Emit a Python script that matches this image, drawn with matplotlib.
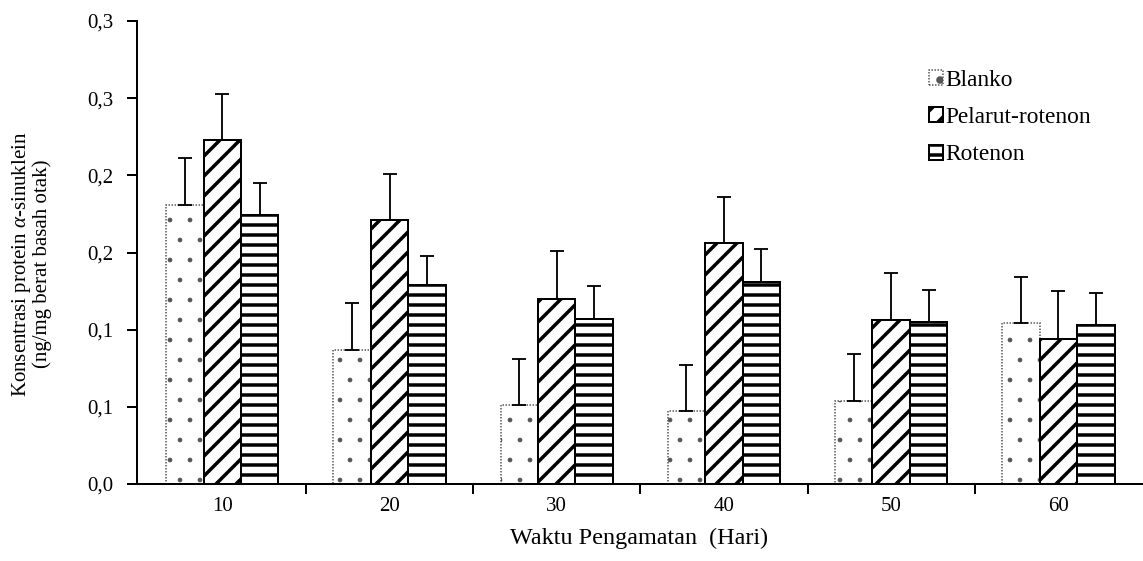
import numpy as np
import matplotlib
matplotlib.use('Agg')
import matplotlib.pyplot as plt

plt.rcParams['font.family'] = ['Liberation Serif', 'DejaVu Serif']
plt.rcParams['mathtext.fontset'] = 'custom'
plt.rcParams['mathtext.it'] = 'Liberation Serif:italic'
plt.rcParams['mathtext.rm'] = 'Liberation Serif'
plt.rcParams['hatch.linewidth'] = 2.1

# data
days = ['10', '20', '30', '40', '50', '60']
blanko = [0.181, 0.087, 0.051, 0.047, 0.054, 0.104]
blanko_err = [0.030, 0.030, 0.030, 0.030, 0.030, 0.030]
pelarut = [0.223, 0.171, 0.120, 0.156, 0.106, 0.094]
pelarut_err = [0.030, 0.030, 0.031, 0.030, 0.031, 0.031]
rotenon = [0.174, 0.129, 0.107, 0.131, 0.105, 0.103]
rotenon_err = [0.021, 0.019, 0.021, 0.021, 0.021, 0.021]
y_ticks = [0.0, 0.05, 0.10, 0.15, 0.20, 0.25, 0.30]
y_labels = ['0,0', '0,1', '0,1', '0,2', '0,2', '0,3', '0,3']

fig = plt.figure(figsize=(1143 / 120, 561 / 120), dpi=120)
ax = fig.add_axes([137 / 1143, 1 - 484 / 561, 1005 / 1143, 463 / 561])

x = np.arange(len(days))
w = 0.224

def upper_err(err):
    return [np.zeros(len(err)), err]

def thin_hatch(patch, lw=0.4):
    # dots of the Blanko bars need a thinner hatch line than the stripes
    orig = patch.draw
    def draw(renderer):
        with plt.rc_context({'hatch.linewidth': lw}):
            orig(renderer)
    patch.draw = draw

ekw = dict(elinewidth=1.1, capthick=1.1, ecolor='black')

with plt.rc_context({'hatch.linewidth': 0.4}):
    b1 = ax.bar(x - w, blanko, w, color='white', edgecolor='#555555', linewidth=0.9,
                linestyle=(0, (1, 1)), hatch='.', label='Blanko',
                yerr=upper_err(blanko_err), capsize=4, error_kw=ekw, zorder=2)
for p in b1:
    thin_hatch(p)

b2 = ax.bar(x, pelarut, w, color='white', edgecolor='black', linewidth=1.2,
            hatch='//', label='Pelarut-rotenon',
            yerr=upper_err(pelarut_err), capsize=4, error_kw=ekw, zorder=2)
b3 = ax.bar(x + w, rotenon, w, color='white', edgecolor='black', linewidth=1.2,
            hatch='--', label='Rotenon',
            yerr=upper_err(rotenon_err), capsize=4, error_kw=ekw, zorder=2)

ax.set_xlim(-0.51, 5.5)
ax.set_ylim(0, 0.30)
ax.set_yticks(y_ticks)
ax.set_yticklabels(y_labels, fontsize=12.5)
ax.set_xticks(x)
ax.set_xticklabels(days, fontsize=12.5)
ax.set_xticks(x[:-1] + 0.5, minor=True)
ax.tick_params(axis='x', which='major', length=0, pad=8)
ax.tick_params(axis='x', which='minor', length=6, width=1.2, direction='out')
ax.tick_params(axis='y', length=6, width=1.2, direction='out', pad=8)

for s in ['top', 'right']:
    ax.spines[s].set_visible(False)
for s in ['left', 'bottom']:
    ax.spines[s].set_linewidth(1.2)

ax.set_xlabel('Waktu Pengamatan  (Hari)', fontsize=14.5, labelpad=7)
fig.text(31 / 1143, 1 - 264 / 561,
         'Konsentrasi protein $\\alpha$-sinuklein\n(ng/mg berat basah otak)',
         rotation=90, ha='center', va='center', multialignment='center',
         fontsize=12.5, linespacing=1.0)

leg = ax.legend(handles=[b1, b2, b3], loc='upper left',
                bbox_to_anchor=(917 / 1143, 1 - 58 / 561), bbox_transform=fig.transFigure,
                frameon=False, fontsize=14, handlelength=0.6, handleheight=0.6,
                handletextpad=0.1, labelspacing=0.7, borderpad=0)

fig.savefig('out.png', dpi=120)
